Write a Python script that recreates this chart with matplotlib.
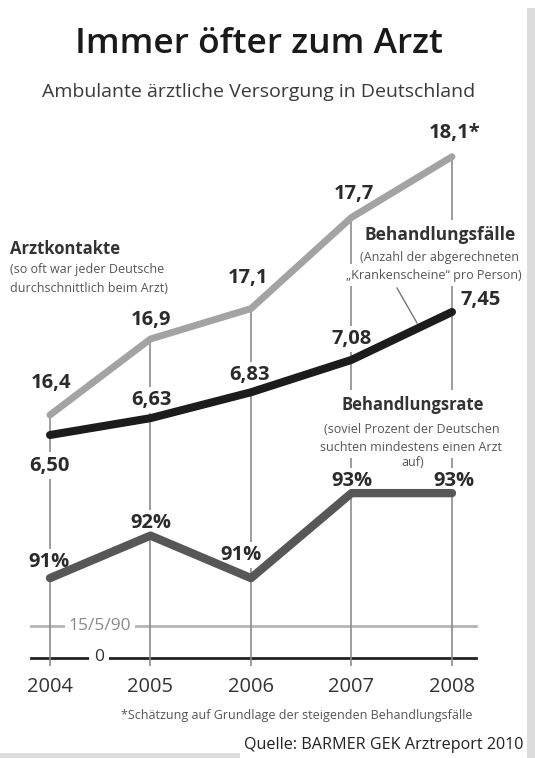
import matplotlib
matplotlib.use('Agg')
import matplotlib.pyplot as plt
from matplotlib.lines import Line2D
from matplotlib.patches import Rectangle

plt.rcParams['font.family'] = ['Open Sans', 'DejaVu Sans']

# DATA
years = [2004, 2005, 2006, 2007, 2008]
kontakte = [16.4, 16.9, 17.1, 17.7, 18.1]          # Arztkontakte
faelle = [6.50, 6.63, 6.83, 7.08, 7.45]            # Behandlungsfälle
rate = [91, 92, 91, 93, 93]                        # Behandlungsrate in %
kontakte_labels = ['16,4', '16,9', '17,1', '17,7', '18,1*']
faelle_labels = ['6,50', '6,63', '6,83', '7,08', '7,45']
rate_labels = ['91%', '92%', '91%', '93%', '93%']

# label offsets (pixels) from each point
kontakte_off = [(1, 34), (1, 21), (-3, 33), (2, 26), (3, 26)]
faelle_off = [(-1, -28), (1, 21), (-1, 20), (0, 23), (29, 14)]
rate_off = [(-1, 19), (0, 15), (-10, 26), (0, 15), (2, 15)]

W, H = 535, 758
fig = plt.figure(figsize=(W / 100, H / 100), dpi=100)

def ftext(px, py, s, **kw):
    kw.setdefault('ha', 'center')
    kw.setdefault('va', 'center')
    return fig.text(px / W, 1 - py / H, s, **kw)

# axes box: zero line at bottom
pos = [31 / W, 1 - 658 / H, (476 - 31) / W, (658 - 140) / H]
ax = fig.add_axes(pos)
ax.set_xlim(2003.811, 2008.239)
ax.set_ylim(0, 1)
ax.axis('off')

# baseline and broken-axis line
ax.plot([0, 1], [0, 0], transform=ax.transAxes, color='#222222', lw=2, clip_on=False)
ax.plot([0, 1], [0.062, 0.062], transform=ax.transAxes, color='#b5b5b5', lw=2, clip_on=False)

ax_l = fig.add_axes(pos, sharex=ax)
ax_b = fig.add_axes(pos, sharex=ax)
ax_d = fig.add_axes(pos, sharex=ax)
for a in (ax_l, ax_b, ax_d):
    a.axis('off')
    a.patch.set_visible(False)
ax_l.set_ylim(14.80, 18.21)
ax_b.set_ylim(4.778, 8.778)
ax_d.set_ylim(89.12, 101.31)

# vertical year lines
ax_l.vlines(years, 14.745, kontakte, color='#8c8c8c', lw=1.2, zorder=1, clip_on=False)

ax_l.plot(years, kontakte, color='#a3a3a3', lw=5, solid_capstyle='round',
          solid_joinstyle='round', zorder=3, clip_on=False)
ax_b.plot(years, faelle, color='#1c1c1c', lw=5.8, solid_capstyle='round',
          solid_joinstyle='round', zorder=3, clip_on=False)
ax_d.plot(years, rate, color='#575757', lw=6, solid_capstyle='round',
          solid_joinstyle='round', zorder=3, clip_on=False)

box = dict(boxstyle='square,pad=0.15', fc='white', ec='none')
for a, vals, labs, offs in ((ax_l, kontakte, kontakte_labels, kontakte_off),
                            (ax_b, faelle, faelle_labels, faelle_off),
                            (ax_d, rate, rate_labels, rate_off)):
    for x, v, s, o in zip(years, vals, labs, offs):
        a.annotate(s, xy=(x, v), xytext=o, textcoords='offset pixels',
                   ha='center', va='center_baseline', fontsize=14.5, fontweight='bold',
                   color='#2b2b2b', bbox=box, zorder=2, annotation_clip=False)

# year ticks
for x in years:
    ax.annotate(str(x), xy=(x, 0), xytext=(0, -26), textcoords='offset pixels',
                ha='center', va='center_baseline', fontsize=14.5, color='#333333',
                annotation_clip=False)

# axis labels on the base lines
ftext(100, 626, '15/5/90', fontsize=12.5, color='#8a8a8a',
      bbox=dict(boxstyle='square,pad=0.2', fc='white', ec='none'))
ftext(99, 657, '0', fontsize=12.5, color='#333333',
      bbox=dict(boxstyle='square,pad=0.3', fc='white', ec='none'))

# title
ftext(259, 44, 'Immer öfter zum Arzt', fontsize=25.5, fontweight='semibold', color='#1a1a1a')
ftext(259, 92, 'Ambulante ärztliche Versorgung in Deutschland', fontsize=14, color='#3a3a3a')

# series notes
wbox = dict(boxstyle='square,pad=0.35', fc='white', ec='none')
ftext(10, 249, 'Arztkontakte', ha='left', fontsize=12, fontweight='bold', color='#333333')
ftext(10, 270, '(so oft war jeder Deutsche', ha='left', fontsize=9, color='#555555')
ftext(10, 288, 'durchschnittlich beim Arzt)', ha='left', fontsize=9, color='#555555')

ftext(440, 235, 'Behandlungsfälle', fontsize=12.5, fontweight='bold', color='#333333', bbox=wbox)
ftext(440, 258, '(Anzahl der abgerechneten', fontsize=9, color='#555555', bbox=wbox)
ftext(434, 275, '„Krankenscheine“ pro Person)', fontsize=9, color='#555555', bbox=wbox)
fig.add_artist(Line2D([397 / W, 417 / W], [1 - 288 / H, 1 - 323 / H],
                      color='#777777', lw=1))

ftext(413, 405, 'Behandlungsrate', fontsize=12, fontweight='bold', color='#333333', bbox=wbox)
ftext(412, 429, '(soviel Prozent der Deutschen', fontsize=9, color='#555555', bbox=wbox)
ftext(411, 447, 'suchten mindestens einen Arzt', fontsize=9, color='#555555', bbox=wbox)
ftext(413, 462, 'auf)', fontsize=9, color='#555555')

# footer
ftext(297, 716, '*Schätzung auf Grundlage der steigenden Behandlungsfälle',
      fontsize=9, color='#555555')
ftext(244, 745, 'Quelle: BARMER GEK Arztreport 2010', ha='left', fontsize=11.6,
      color='#222222')

# frame strips
fig.add_artist(Rectangle((527 / W, 0), 8 / W, 1 - 8 / H, transform=fig.transFigure,
                         fc='#dcdcdc', ec='none', zorder=0))
fig.add_artist(Rectangle((0, 0), 240 / W, 5 / H, transform=fig.transFigure,
                         fc='#dcdcdc', ec='none', zorder=0))

fig.savefig('out.png', dpi=100)
